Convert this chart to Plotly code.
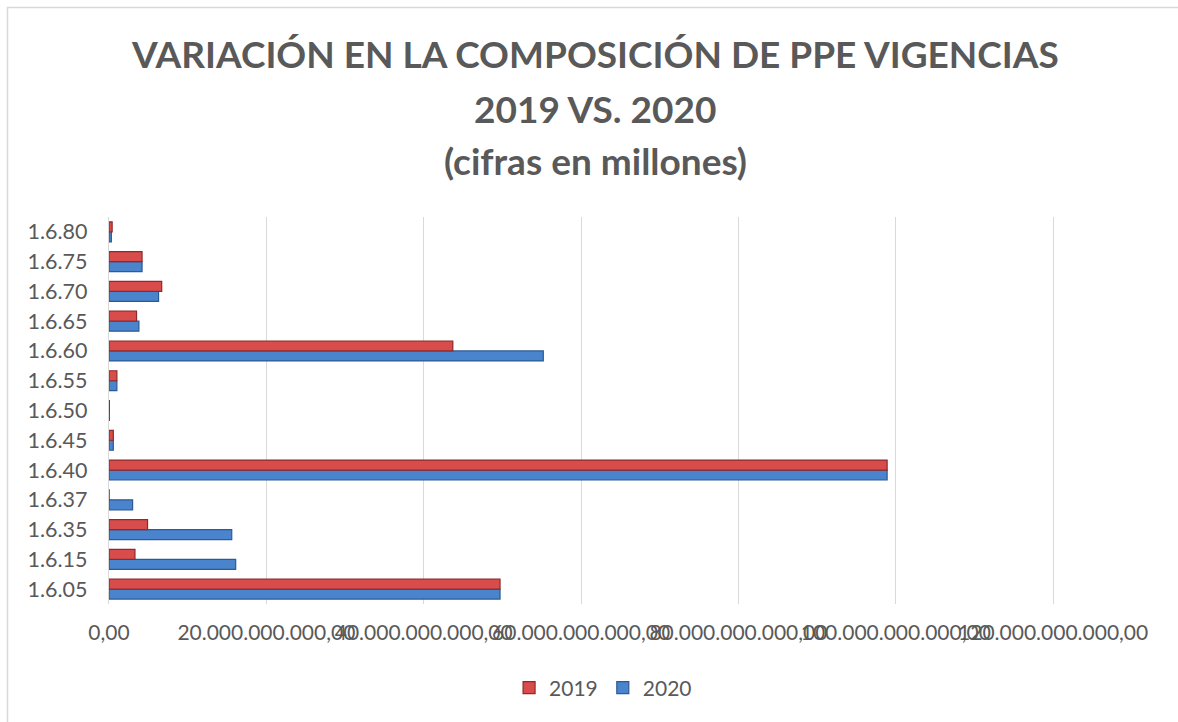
import plotly.graph_objects as go

categories = ["1.6.05", "1.6.15", "1.6.35", "1.6.37", "1.6.40", "1.6.45", "1.6.50",
              "1.6.55", "1.6.60", "1.6.65", "1.6.70", "1.6.75", "1.6.80"]
values_2019 = [49.7e9, 3.3e9, 4.9e9, 0.02e9, 98.9e9, 0.55e9, 0.05e9,
               1.0e9, 43.7e9, 3.5e9, 6.7e9, 4.2e9, 0.4e9]
values_2020 = [49.7e9, 16.1e9, 15.6e9, 3.0e9, 98.9e9, 0.55e9, 0.05e9,
               1.0e9, 55.2e9, 3.8e9, 6.3e9, 4.2e9, 0.3e9]
tick_values = [0, 20e9, 40e9, 60e9, 80e9, 100e9, 120e9]
title_lines = ["VARIACIÓN EN LA COMPOSICIÓN DE PPE VIGENCIAS", "2019 VS. 2020", "(cifras en millones)"]


def es_format(v):
    s = f"{v:,.2f}"
    return s.replace(",", "X").replace(".", ",").replace("X", ".")


tick_text = [es_format(v) for v in tick_values]

FONT = "Lato"
GRAY = "#595959"

fig = go.Figure()
fig.add_trace(go.Bar(
    y=categories, x=values_2020, orientation="h", name="2020",
    marker=dict(color="#4A84CC", line=dict(color="#2B5A95", width=1.2)),
    legendrank=2,
))
fig.add_trace(go.Bar(
    y=categories, x=values_2019, orientation="h", name="2019",
    marker=dict(color="#D94C4C", line=dict(color="#8E2A2A", width=1.2)),
    legendrank=1,
))

# plot area in page pixels (120B gridline at x=1053, range extends slightly further)
X_MAX = 121e9
L, T, B = 109, 217, 604
R = L + (1053 - L) * X_MAX / 120e9
W, H = R - L, B - T


def py(pix):
    return (B - pix) / H


def px(pix):
    return (pix - L) / W


annotations = []
for text, ypix in zip(title_lines, [53, 108, 160]):
    annotations.append(dict(
        text=f"<b>{text}</b>", xref="paper", yref="paper",
        x=px(595), y=py(ypix), xanchor="center", yanchor="middle",
        showarrow=False, font=dict(family=FONT, size=37, color=GRAY),
    ))

fig.update_layout(
    width=1178, height=722,
    margin=dict(l=L, r=1178 - R, t=T, b=722 - B, autoexpand=False),
    paper_bgcolor="white", plot_bgcolor="white",
    barmode="group", bargap=0.33, bargroupgap=0.0,
    font=dict(family=FONT, size=21, color=GRAY),
    showlegend=True,
    legend=dict(orientation="h", x=px(603), y=py(688), xanchor="center", yanchor="middle",
                font=dict(family=FONT, size=21, color=GRAY), itemwidth=30,
                traceorder="normal"),
    annotations=annotations,
    shapes=[dict(type="rect", xref="paper", yref="paper",
                 x0=px(7.5), x1=px(1200), y0=py(740), y1=py(7.5),
                 line=dict(color="#D9D9D9", width=1.5), layer="below")],
    xaxis=dict(range=[0, X_MAX], tickvals=tick_values, ticktext=tick_text,
               tickangle=0,
               showgrid=True, gridcolor="#D9D9D9", gridwidth=1.3,
               zeroline=False, showline=False, ticks="",
               ticklabelstandoff=14, tickfont=dict(size=21, color=GRAY)),
    yaxis=dict(type="category", categoryorder="array", categoryarray=categories,
               showgrid=False, zeroline=False, showline=True, linecolor="#D9D9D9",
               linewidth=1.3, ticks="", ticklabelstandoff=16,
               tickfont=dict(size=21.5, color=GRAY)),
)

fig.write_html("out.html", config={"displayModeBar": False},
               post_script="document.body.style.margin='0';")
